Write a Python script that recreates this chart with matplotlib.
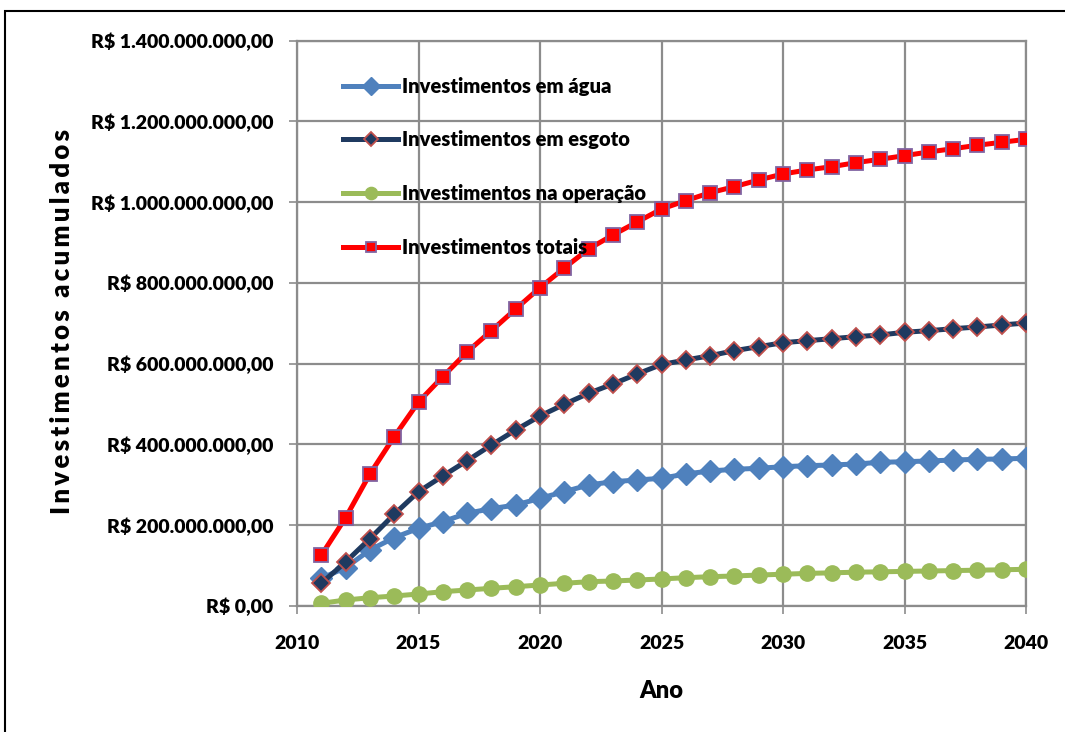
import matplotlib
matplotlib.use("Agg")
import matplotlib.pyplot as plt
from matplotlib.ticker import FuncFormatter, MultipleLocator
from matplotlib.patches import Rectangle

# Accumulated investments (R$ millions) per year
anos = list(range(2011, 2041))
agua = [67.9, 94.2, 138.0, 168.5, 191.8, 208.2, 229.0, 240.4, 249.5, 266.1,
        282.5, 299.1, 307.3, 311.5, 315.7, 326.4, 333.8, 338.0, 340.5, 344.4,
        346.9, 348.7, 351.1, 355.3, 356.8, 358.6, 361.0, 362.8, 363.5, 365.3]
esgoto = [55.5, 108.3, 166.0, 226.5, 282.5, 321.4, 359.3, 398.2, 435.4, 470.1,
          499.1, 526.3, 549.4, 574.2, 597.7, 608.8, 619.5, 631.9, 641.8, 651.7,
          656.7, 661.6, 666.6, 670.8, 677.5, 681.5, 686.4, 690.6, 695.6, 700.5]
operacao = [5.9, 14.1, 19.8, 24.0, 29.0, 34.7, 38.9, 43.1, 47.1, 51.3,
            55.5, 59.5, 61.2, 63.7, 66.2, 69.4, 71.9, 73.6, 76.0, 78.0,
            80.0, 81.5, 83.0, 84.0, 85.0, 86.0, 87.0, 88.0, 89.0, 90.2]
totais = [125.0, 218.1, 326.4, 418.8, 504.8, 567.5, 628.7, 681.5, 735.2, 788.0,
          836.8, 883.9, 918.6, 950.8, 983.0, 1003.6, 1023.4, 1038.3, 1054.9, 1069.8,
          1079.7, 1087.8, 1097.8, 1106.2, 1115.1, 1124.3, 1132.4, 1140.9, 1148.3, 1155.7]

series_names = ["Investimentos em água", "Investimentos em esgoto",
                "Investimentos na operação", "Investimentos totais"]

FONT = ["Lato", "DejaVu Sans"]
plt.rcParams["font.family"] = FONT

fig = plt.figure(figsize=(10.65, 7.32), dpi=100)
ax = fig.add_axes([297 / 1065, 1 - 605.7 / 732, (1026 - 297) / 1065, (605.7 - 40.7) / 732])

M = 1e6
ax.plot(anos, [v * M for v in agua], color="#4F81BD", lw=3.6, marker="D", ms=11,
        mfc="#4F81BD", mec="#4F81BD", label=series_names[0], zorder=3)
ax.plot(anos, [v * M for v in esgoto], color="#1F3A60", lw=3.6, marker="D", ms=9,
        mfc="#1F3A60", mec="#C0504D", mew=1.3, label=series_names[1], zorder=4)
ax.plot(anos, [v * M for v in operacao], color="#9BBB59", lw=3.6, marker="o", ms=11,
        mfc="#9BBB59", mec="#9BBB59", label=series_names[2], zorder=3)
ax.plot(anos, [v * M for v in totais], color="#FF0000", lw=3.6, marker="s", ms=9.5,
        mfc="#FF0000", mec="#8064A2", mew=1.3, label=series_names[3], zorder=5)

ax.set_xlim(2010, 2040)
ax.set_ylim(0, 1.4e9)
ax.xaxis.set_major_locator(MultipleLocator(5))
ax.yaxis.set_major_locator(MultipleLocator(2e8))


def brl(v, pos):
    s = f"{v:,.2f}".replace(",", "X").replace(".", ",").replace("X", ".")
    return "R$ " + s


ax.yaxis.set_major_formatter(FuncFormatter(brl))
ax.grid(True, color="#8C8C8C", lw=1.6)
ax.set_axisbelow(True)
for sp in ax.spines.values():
    sp.set_color("#8C8C8C")
    sp.set_linewidth(1.6)
ax.tick_params(axis="both", colors="#8C8C8C", length=6, width=1.2,
               labelcolor="black", labelsize=14)
ax.tick_params(axis="y", pad=11)
ax.tick_params(axis="x", pad=15)
for lab in ax.get_xticklabels() + ax.get_yticklabels():
    lab.set_fontweight("heavy")

ax.set_xlabel("Ano", fontsize=17, fontweight="heavy", labelpad=20)

# spaced-out vertical title
thin = "\u2009"
ylab = thin.join("Investimentos acumulados")
fig.text(62 / 1065, 1 - 322 / 732, ylab, rotation=90, ha="center", va="center",
         fontsize=18.5, fontweight="heavy", family=FONT)

leg = ax.legend(loc="upper left", bbox_to_anchor=(0.063, 0.936), frameon=False,
                fontsize=14.5, labelspacing=1.72, handlelength=2.75, handletextpad=0.2,
                markerscale=0.8, borderaxespad=0, borderpad=0)
for t in leg.get_texts():
    t.set_fontweight("heavy")

# outer chart frame
fig.patches.append(Rectangle((5 / 1065, -0.1), 1.2, 1.1 - 11 / 732, fill=False,
                             lw=1.5, ec="black", transform=fig.transFigure))

fig.savefig("out.png", dpi=100)
